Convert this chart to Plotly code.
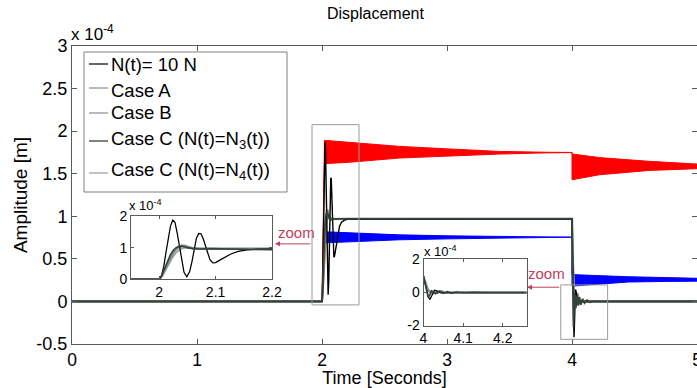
import plotly.graph_objects as go

# ---------------- data (amplitude in units of 1e-4 m) ----------------
black_t = [0, 2.000, 2.004, 2.008, 2.012, 2.016, 2.020, 2.024, 2.028, 2.032, 2.036, 2.040, 2.044, 2.049,
           2.054, 2.058, 2.062, 2.066, 2.070, 2.074, 2.078, 2.082, 2.086, 2.090, 2.095, 2.100, 2.106,
           2.114, 2.127, 2.140, 2.156, 2.180, 2.200, 4.000, 4.004, 4.008, 4.012, 4.016, 4.020, 4.024,
           4.028, 4.032, 4.038, 4.045, 4.055, 5.0]
black_v = [0, 0.00, 0.10, 0.40, 0.85, 1.30, 1.68, 1.87, 1.80, 1.45, 1.00, 0.55, 0.22, 0.08,
           0.25, 0.55, 0.95, 1.30, 1.45, 1.44, 1.28, 1.05, 0.80, 0.62, 0.52, 0.53, 0.59,
           0.68, 0.80, 0.88, 0.93, 0.955, 0.965, 0.97, 0.55, 0.10, -0.25, -0.42, -0.25, 0.00,
           0.14, 0.12, 0.03, -0.02, 0.00, 0.00]

caseA_t = [0, 2.0, 2.005, 2.01, 2.015, 2.02, 2.025, 2.03, 2.035, 2.04, 2.045, 2.05, 2.055, 2.06, 2.07,
           2.08, 2.2, 4.0, 4.004, 4.008, 4.012, 4.016, 4.022, 4.028, 4.034, 4.04, 4.046, 4.052, 4.06, 5.0]
caseA_v = [0, 0, 0.10, 0.28, 0.47, 0.66, 0.82, 0.95, 1.03, 1.07, 1.07, 1.04, 1.00, 0.98, 0.96,
           0.965, 0.97, 0.97, 0.60, 0.30, 0.12, 0.02, -0.04, -0.03, 0.04, 0.09, 0.08, 0.02, 0.0, 0.0]

caseB_t = [0, 2.0, 2.006, 2.012, 2.018, 2.024, 2.03, 2.036, 2.042, 2.05, 2.06, 2.08, 2.2, 4.0, 4.006,
           4.012, 4.018, 4.026, 4.035, 4.045, 5.0]
caseB_v = [0, 0, 0.12, 0.32, 0.52, 0.70, 0.84, 0.93, 0.98, 1.00, 0.99, 0.975, 0.97, 0.97, 0.55,
           0.20, 0.02, -0.03, 0.02, 0.0, 0.0]

caseC3_t = [0, 2.0, 2.005, 2.01, 2.015, 2.02, 2.025, 2.03, 2.035, 2.04, 2.045, 2.05, 2.06, 2.07,
            2.09, 4.0, 4.004, 4.008, 4.012, 4.016, 4.02, 4.026, 4.03, 4.036, 4.04, 4.046, 4.05, 4.056,
            4.06, 4.066, 4.07, 4.078, 4.085, 4.092, 4.1, 4.11, 4.12, 4.13, 4.145, 4.16, 5.0]
caseC3_v = [0, 0, 0.15, 0.38, 0.60, 0.78, 0.92, 1.00, 1.04, 1.05, 1.03, 1.00, 0.97, 0.96,
            0.97, 0.97, 0.50, 0.00, -0.30, -0.15, 0.10, 0.05, -0.08, -0.02, 0.07, 0.02, -0.05, 0.0,
            0.05, 0.0, -0.04, 0.0, 0.03, 0.0, -0.02, 0.0, 0.015, 0.0, -0.01, 0.0, 0.0]

caseC4_t = [0, 2.0, 2.005, 2.01, 2.015, 2.02, 2.025, 2.03, 2.035, 2.04, 2.045, 2.05, 2.06, 2.2, 4.0,
            4.005, 4.01, 4.015, 4.02, 4.028, 4.035, 4.042, 4.05, 4.058, 5.0]
caseC4_v = [0, 0, 0.10, 0.30, 0.50, 0.68, 0.83, 0.94, 1.01, 1.04, 1.03, 1.00, 0.97, 0.97, 0.97,
            0.55, 0.20, 0.05, -0.05, -0.02, 0.05, 0.10, 0.05, 0.0, 0.0]

# envelopes of the fast-oscillating responses (red / blue bands)
red_t = [0, 2.0, 2.02, 2.22, 2.62, 3.02, 3.42, 3.8, 4.0, 4.0, 4.22, 4.62, 5.0]
red_upper = [0, 0, 1.892, 1.868, 1.821, 1.791, 1.762, 1.752, 1.75, 1.732, 1.689, 1.645, 1.614]
red_lower = [0, 0, 1.618, 1.635, 1.684, 1.710, 1.731, 1.745, 1.748, 1.429, 1.488, 1.539, 1.559]

blue_t = [0, 2.0, 2.02, 2.22, 2.62, 3.02, 3.42, 4.0, 4.0, 4.2, 4.45, 4.75, 5.0]
blue_upper = [0, 0, 0.818, 0.806, 0.782, 0.770, 0.762, 0.755, 0.315, 0.300, 0.290, 0.280, 0.272]
blue_lower = [0, 0, 0.688, 0.700, 0.724, 0.735, 0.743, 0.755, 0.180, 0.205, 0.228, 0.235, 0.238]

y_ticks = [-0.5, 0, 0.5, 1, 1.5, 2, 2.5, 3]
y_labels = ["-0.5", "0", "0.5", "1", "1.5", "2", "2.5", "3"]
x_ticks = [0, 1, 2, 3, 4, 5]
x_labels = ["0", "1", "2", "3", "4", "5"]

legend_names = ["N(t)= 10 N", "Case A", "Case B",
                "Case C (N(t)=N<sub>3</sub>(t))", "Case C (N(t)=N<sub>4</sub>(t))"]
legend_colors = ["#000000", "#8a8a8a", "#8a8a8a", "#2e2e2e", "#9a9a9a"]

series = [
    (black_t, black_v, "#000000", 1.4),
    (caseA_t, caseA_v, "#8f8f8f", 2.2),
    (caseB_t, caseB_v, "#a8a8a8", 2.0),
    (caseC3_t, caseC3_v, "#34443a", 1.8),
    (caseC4_t, caseC4_v, "#828f86", 1.8),
]
draw_order = [2, 1, 4, 0, 3]

FONT = "Liberation Sans, Arial, sans-serif"
AX = "#5a5a5a"

fig = go.Figure()

# bands
for t, up, lo, col in [(red_t, red_upper, red_lower, "#ff0000"), (blue_t, blue_upper, blue_lower, "#0000ff")]:
    fig.add_trace(go.Scatter(x=t, y=up, mode="lines", line=dict(color=col, width=1),
                             showlegend=False, hoverinfo="skip"))
    fig.add_trace(go.Scatter(x=t, y=lo, mode="lines", line=dict(color=col, width=1),
                             fill="tonexty", fillcolor=col, showlegend=False, hoverinfo="skip"))

# main curves and inset curves
for xa, ya, scale in [("x", "y", 1.0), ("x2", "y2", 0.9), ("x3", "y3", 0.9)]:
    for i in draw_order:
        t, v, col, w = series[i]
        fig.add_trace(go.Scatter(x=t, y=v, mode="lines", name=legend_names[i], showlegend=False,
                                 line=dict(color=col, width=w * scale), xaxis=xa, yaxis=ya))

common_ax = dict(showline=True, linecolor=AX, linewidth=1, mirror="allticks", ticks="inside",
                 tickcolor=AX, showgrid=False, zeroline=False, automargin=False,
                 ticklabeloverflow="allow")

fig.update_layout(
    width=697, height=388,
    margin=dict(l=72, r=0, t=46, b=44),
    paper_bgcolor="white", plot_bgcolor="white",
    font=dict(family=FONT, size=17, color="black"),
    showlegend=False,
    xaxis=dict(range=[0, 5], tickvals=x_ticks, ticktext=x_labels, ticklen=5,
               tickfont=dict(size=17.5), title=dict(text="Time [Seconds]", font=dict(size=18), standoff=3),
               domain=[0, 1], **common_ax),
    yaxis=dict(range=[-0.5, 3], tickvals=y_ticks, ticktext=y_labels, ticklen=5,
               tickfont=dict(size=18), title=dict(text="Amplitude [m]", font=dict(size=19), standoff=3),
               domain=[0, 1], **common_ax),
    xaxis2=dict(range=[1.95, 2.2], tickvals=[2, 2.1, 2.2], ticktext=["2", "2.1", "2.2"], ticklen=3,
                tickfont=dict(size=14), domain=[0.0944, 0.32], anchor="y2", **common_ax),
    yaxis2=dict(range=[0, 2], tickvals=[0, 1, 2], ticktext=["0", "1", "2"], ticklen=3,
                tickfont=dict(size=14), domain=[0.217, 0.4295], anchor="x2", **common_ax),
    xaxis3=dict(range=[4.0, 4.26], tickvals=[4, 4.1, 4.2], ticktext=["4", "4.1", "4.2"], ticklen=3,
                tickfont=dict(size=14), domain=[0.5624, 0.7272], anchor="y3", **common_ax),
    yaxis3=dict(range=[-2, 2], tickvals=[-2, 0, 2], ticktext=["-2", "0", "2"], ticklen=3,
                tickfont=dict(size=14), domain=[0.062, 0.2836], anchor="x3", **common_ax),
)

# ---- legend box (drawn in pixel-equivalent paper coordinates) ----
PW, PH, L, T = 625.0, 298.0, 72.0, 46.0
def px(x):
    return (x - L) / PW
def py(y):
    return (T + PH - y) / PH

fig.add_shape(type="rect", xref="paper", yref="paper", x0=px(84), x1=px(287), y0=py(192), y1=py(52),
              line=dict(color="#7f7f7f", width=1), fillcolor="white", layer="above")
legend_line_y = [64, 88, 113, 141, 173]
legend_text_y = [65, 90, 113, 140, 171]
for name, col, ly, ty in zip(legend_names, legend_colors, legend_line_y, legend_text_y):
    fig.add_shape(type="line", xref="paper", yref="paper", x0=px(89), x1=px(108), y0=py(ly), y1=py(ly),
                  line=dict(color=col, width=1.2), layer="above")
    fig.add_annotation(x=px(109), y=py(ty), xref="paper", yref="paper", xanchor="left", yanchor="middle",
                       text=name, showarrow=False, font=dict(size=18.5, family=FONT, color="black"))

# zoom boxes
fig.add_shape(type="rect", xref="x", yref="y", x0=1.92, x1=2.296, y0=-0.041, y1=2.076,
              line=dict(color="#9a9a9a", width=1))
fig.add_shape(type="rect", xref="x", yref="y", x0=3.91, x1=4.285, y0=-0.445, y1=0.194,
              line=dict(color="#9a9a9a", width=1))

# arrows + "zoom" labels
ZC = "#c0405a"
for (tx, ty, hx, hy, lx, ly) in [(1.92, 0.676, 1.624, 0.676, 1.792, 0.806),
                                 (3.91, 0.167, 3.64, 0.167, 3.792, 0.324)]:
    fig.add_annotation(x=hx, y=hy, ax=tx, ay=ty, xref="x", yref="y", axref="x", ayref="y",
                       showarrow=True, arrowhead=2, arrowsize=1, arrowwidth=1, arrowcolor=ZC, text="")
    fig.add_annotation(x=lx, y=ly, xref="x", yref="y", text="zoom", showarrow=False,
                       font=dict(size=15, color=ZC, family=FONT))

# title and exponent labels
fig.add_annotation(x=px(325), y=py(13), xref="paper", yref="paper", xanchor="left", yanchor="middle",
                   text="Displacement", showarrow=False, font=dict(size=16, family=FONT))
fig.add_annotation(x=px(69), y=py(46), xref="paper", yref="paper", xanchor="left", yanchor="bottom",
                   text="x 10<sup>-4</sup>", showarrow=False, font=dict(size=17, family=FONT))
fig.add_annotation(x=px(127), y=py(215), xref="paper", yref="paper", xanchor="left", yanchor="bottom",
                   text="x 10<sup>-4</sup>", showarrow=False, font=dict(size=13, family=FONT))
fig.add_annotation(x=px(422), y=py(261), xref="paper", yref="paper", xanchor="left", yanchor="bottom",
                   text="x 10<sup>-4</sup>", showarrow=False, font=dict(size=13, family=FONT))

fig.write_html("out.html")
